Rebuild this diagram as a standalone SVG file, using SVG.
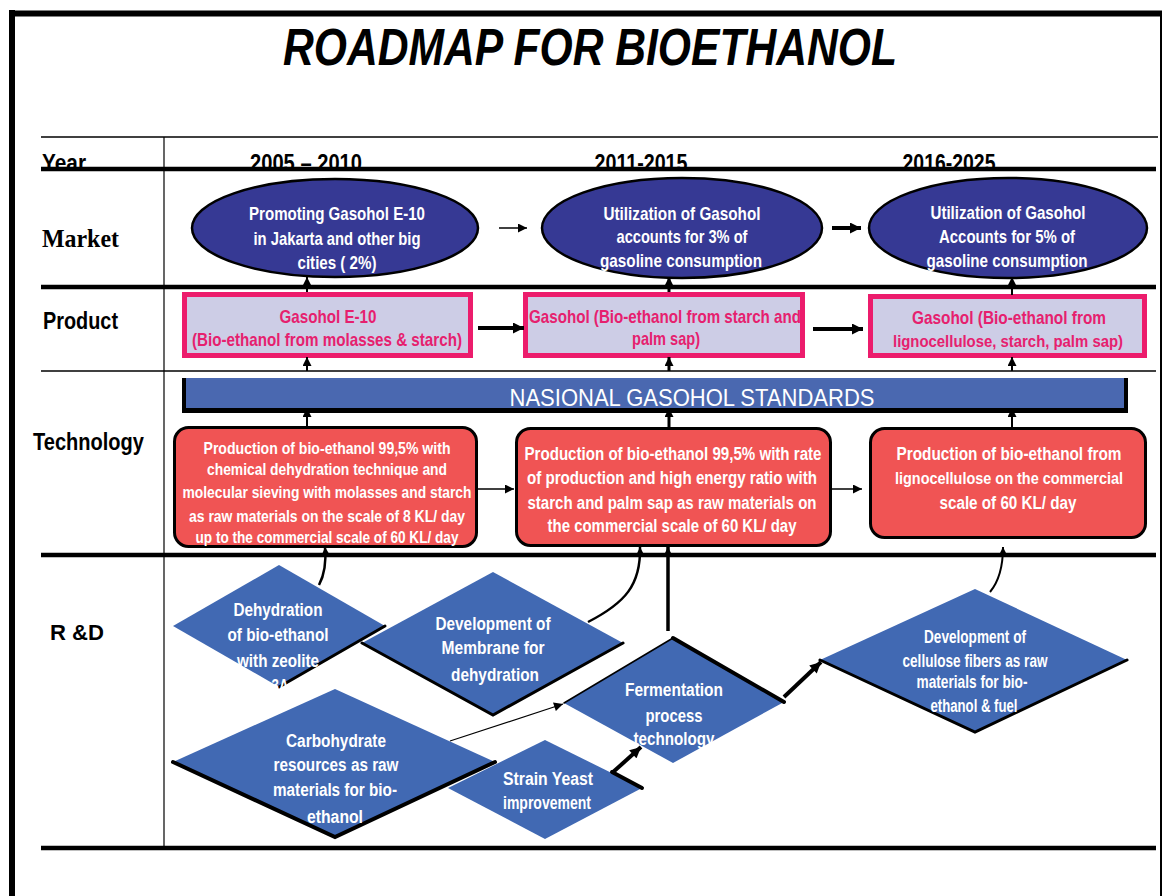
<svg xmlns="http://www.w3.org/2000/svg" width="1163" height="896" viewBox="0 0 1163 896">
<defs>
<style>
text{font-family:"Liberation Sans",Arial,sans-serif;}
.t{font-weight:bold;fill:#fff;text-anchor:middle;}
.m{font-size:19px;}
.p{font-size:19px;font-weight:bold;fill:#E6206E;text-anchor:middle;}
.tc{font-size:17px;}
.d{font-size:18px;}
.lab{font-weight:bold;fill:#000;}
.ell{fill:#363994;stroke:#000;stroke-width:2.5;}
.pbox{fill:#CDCDE6;}
.pbr{fill:none;stroke:#EC1C6C;stroke-width:5;}
.tbox{fill:#F05454;stroke:#000;stroke-width:3;}
.dia{fill:#4169B3;}
.edge{fill:none;stroke:#000;stroke-linecap:round;}
.ln{stroke:#000;fill:none;}
</style>
<marker id="ah" viewBox="0 0 10 10" refX="10" refY="5" markerWidth="10" markerHeight="9" markerUnits="userSpaceOnUse" orient="auto"><path d="M0,0 L10,5 L0,10 z" fill="#000"/></marker>
<marker id="ahb" viewBox="0 0 10 10" refX="10" refY="5" markerWidth="12" markerHeight="11" markerUnits="userSpaceOnUse" orient="auto"><path d="M0,0 L10,5 L0,10 z" fill="#000"/></marker>
</defs>
<rect x="0" y="0" width="1163" height="896" fill="#fff"/>

<g id="frame">
<line x1="9" y1="13.5" x2="1162" y2="13.5" stroke="#000" stroke-width="6"/>
<line x1="12" y1="10" x2="12" y2="896" stroke="#000" stroke-width="6"/>
<line x1="1161" y1="13" x2="1161" y2="896" stroke="#000" stroke-width="2"/>
</g>

<text id="title" x="590" y="65" font-size="51" font-weight="bold" font-style="italic" text-anchor="middle" textLength="614" lengthAdjust="spacingAndGlyphs">ROADMAP FOR BIOETHANOL</text>

<g id="labels">
<text class="lab" x="42" y="171" font-size="23" textLength="44" lengthAdjust="spacingAndGlyphs">Year</text>
<text class="lab" x="306" y="171" font-size="23" text-anchor="middle" textLength="112" lengthAdjust="spacingAndGlyphs">2005 – 2010</text>
<text class="lab" x="641" y="171" font-size="23" text-anchor="middle" textLength="93" lengthAdjust="spacingAndGlyphs">2011-2015</text>
<text class="lab" x="949" y="171" font-size="23" text-anchor="middle" textLength="93" lengthAdjust="spacingAndGlyphs">2016-2025</text>
<text x="42" y="247" font-size="26" font-weight="bold" style="font-family:'Liberation Serif','Times New Roman',serif" textLength="77" lengthAdjust="spacingAndGlyphs">Market</text>
<text class="lab" x="43" y="329" font-size="24" textLength="75" lengthAdjust="spacingAndGlyphs">Product</text>
<text class="lab" x="33" y="450" font-size="24" textLength="111" lengthAdjust="spacingAndGlyphs">Technology</text>
<text class="lab" x="50" y="640" font-size="22" textLength="54" lengthAdjust="spacingAndGlyphs">R &amp;D</text>
</g>

<g id="grid">
<line x1="41" y1="137" x2="1158" y2="137" stroke="#000" stroke-width="1.5"/>
<line x1="164" y1="137" x2="164" y2="848" stroke="#000" stroke-width="1.2"/>
<line x1="41" y1="169" x2="1156" y2="169" stroke="#000" stroke-width="4.5"/>
<line x1="41" y1="287" x2="1156" y2="287" stroke="#000" stroke-width="4.5"/>
<line x1="41" y1="371" x2="1156" y2="371" stroke="#000" stroke-width="1.5"/>
<line x1="41" y1="555" x2="1156" y2="555" stroke="#000" stroke-width="4.5"/>
<line x1="41" y1="848" x2="1156" y2="848" stroke="#000" stroke-width="4.5"/>
</g>

<g id="market1">
<ellipse class="ell" cx="335" cy="228" rx="143" ry="49"/>
<text class="t m" x="337" y="220" textLength="176" lengthAdjust="spacingAndGlyphs">Promoting Gasohol E-10</text>
<text class="t m" x="337" y="245" textLength="167" lengthAdjust="spacingAndGlyphs">in Jakarta and other big</text>
<text class="t m" x="337" y="269" textLength="79" lengthAdjust="spacingAndGlyphs">cities ( 2%)</text>
</g>
<g id="market2">
<ellipse class="ell" cx="682" cy="228" rx="140" ry="50"/>
<text class="t m" x="682" y="220" textLength="157" lengthAdjust="spacingAndGlyphs">Utilization of Gasohol</text>
<text class="t m" x="682" y="243" textLength="131" lengthAdjust="spacingAndGlyphs">accounts for 3% of</text>
<text class="t m" x="681" y="267" textLength="162" lengthAdjust="spacingAndGlyphs">gasoline consumption</text>
</g>
<g id="market3">
<ellipse class="ell" cx="1008" cy="228" rx="139" ry="50"/>
<text class="t m" x="1008" y="219" textLength="155" lengthAdjust="spacingAndGlyphs">Utilization of Gasohol</text>
<text class="t m" x="1007" y="243" textLength="136" lengthAdjust="spacingAndGlyphs">Accounts for 5% of</text>
<text class="t m" x="1007" y="267" textLength="161" lengthAdjust="spacingAndGlyphs">gasoline consumption</text>
</g>

<g id="product1">
<rect class="pbox" x="184.5" y="294.5" width="286" height="61"/>
<text class="p" x="328" y="323" textLength="97" lengthAdjust="spacingAndGlyphs">Gasohol E-10</text>
<text class="p" x="327" y="346" textLength="270" lengthAdjust="spacingAndGlyphs">(Bio-ethanol from molasses &amp; starch)</text>
<rect class="pbr" x="184.5" y="294.5" width="286" height="61"/>
</g>
<g id="product2">
<rect class="pbox" x="525.5" y="294.5" width="277" height="61"/>
<text class="p" x="665" y="323" textLength="272" lengthAdjust="spacingAndGlyphs">Gasohol  (Bio-ethanol from starch and</text>
<text class="p" x="666" y="345" textLength="68" lengthAdjust="spacingAndGlyphs">palm sap)</text>
<rect class="pbr" x="525.5" y="294.5" width="277" height="61"/>
</g>
<g id="product3">
<rect class="pbox" x="870.5" y="296.5" width="274" height="59"/>
<text class="p" x="1009" y="324" textLength="194" lengthAdjust="spacingAndGlyphs">Gasohol (Bio-ethanol from</text>
<text class="p" x="1008" y="347" style="font-size:16px" textLength="230" lengthAdjust="spacingAndGlyphs">lignocellulose, starch, palm sap)</text>
<rect class="pbr" x="870.5" y="296.5" width="274" height="59"/>
</g>

<g id="standards">
<rect x="182" y="378" width="946" height="35" fill="#000"/>
<rect x="186" y="378" width="938" height="30" fill="#4A68B0"/>
<text x="692" y="406" font-size="24" fill="#fff" text-anchor="middle" textLength="365" lengthAdjust="spacingAndGlyphs">NASIONAL  GASOHOL  STANDARDS</text>
</g>

<g id="tech1">
<rect class="tbox" x="174.5" y="427.5" width="302" height="119" rx="14"/>
<text class="t tc" x="327" y="454" textLength="247" lengthAdjust="spacingAndGlyphs">Production of bio-ethanol 99,5% with</text>
<text class="t tc" x="327" y="475" textLength="240" lengthAdjust="spacingAndGlyphs">chemical dehydration technique and</text>
<text class="t tc" x="327" y="498" textLength="289" lengthAdjust="spacingAndGlyphs">molecular sieving  with molasses and starch</text>
<text class="t tc" x="327" y="522" textLength="276" lengthAdjust="spacingAndGlyphs">as raw materials on the scale of 8 KL/  day</text>
<text class="t tc" x="327" y="543" textLength="263" lengthAdjust="spacingAndGlyphs">up to the commercial scale of 60 KL/ day</text>
</g>
<g id="tech2">
<rect class="tbox" x="516.5" y="428.5" width="314" height="117" rx="14"/>
<text class="t" font-size="18" x="673" y="460" textLength="297" lengthAdjust="spacingAndGlyphs">Production of bio-ethanol 99,5% with rate</text>
<text class="t" font-size="18" x="672" y="484" textLength="290" lengthAdjust="spacingAndGlyphs">of production and high energy ratio with</text>
<text class="t" font-size="18" x="672" y="509" textLength="289" lengthAdjust="spacingAndGlyphs">starch and palm sap as raw materials on</text>
<text class="t" font-size="18" x="672" y="532" textLength="249" lengthAdjust="spacingAndGlyphs">the commercial scale of 60 KL/ day</text>
</g>
<g id="tech3">
<rect class="tbox" x="870.5" y="428.5" width="275" height="109" rx="14"/>
<text class="t" font-size="18" x="1009" y="460" textLength="225" lengthAdjust="spacingAndGlyphs">Production of bio-ethanol from</text>
<text class="t" font-size="16" x="1009" y="484" textLength="228" lengthAdjust="spacingAndGlyphs">lignocellulose on the commercial</text>
<text class="t" font-size="18" x="1008" y="509" textLength="137" lengthAdjust="spacingAndGlyphs">scale of 60 KL/ day</text>
</g>

<g id="rd-membrane">
<polygon class="dia" points="362,643 493,572 623,643 493,715"/>
<polyline class="edge" points="362,643 493,715 623,643" stroke-width="3"/>
<text class="t d" x="493" y="630" textLength="115" lengthAdjust="spacingAndGlyphs">Development of</text>
<text class="t d" x="493" y="654" textLength="103" lengthAdjust="spacingAndGlyphs">Membrane for</text>
<text class="t d" x="495" y="681" textLength="88" lengthAdjust="spacingAndGlyphs">dehydration</text>
</g>
<g id="rd-dehydration">
<polygon class="dia" points="173,626 279,565 385,626 279,687"/>
<line class="edge" x1="385" y1="626" x2="279" y2="687" stroke-width="3"/>
<text class="t d" x="278" y="616" textLength="89" lengthAdjust="spacingAndGlyphs">Dehydration</text>
<text class="t d" x="278" y="641" textLength="101" lengthAdjust="spacingAndGlyphs">of bio-ethanol</text>
<text class="t d" x="278" y="667" textLength="82" lengthAdjust="spacingAndGlyphs">with zeolite</text>
<text class="t d" x="280" y="692" textLength="17" lengthAdjust="spacingAndGlyphs">3A</text>
</g>
<g id="rd-carbohydrate">
<polygon class="dia" points="173,762 335,689 495,762 335,837"/>
<polyline class="edge" points="173,762 335,837 495,762" stroke-width="4"/>
<text class="t d" x="336" y="747" textLength="100" lengthAdjust="spacingAndGlyphs">Carbohydrate</text>
<text class="t d" x="336" y="771" textLength="125" lengthAdjust="spacingAndGlyphs">resources as raw</text>
<text class="t d" x="335" y="796" textLength="124" lengthAdjust="spacingAndGlyphs">materials for bio-</text>
<text class="t d" x="335" y="823" textLength="56" lengthAdjust="spacingAndGlyphs">ethanol</text>
</g>
<g id="rd-fermentation">
<polygon class="dia" points="564,703 673,638 784,702 673,763"/>
<line class="edge" x1="564" y1="703" x2="673" y2="638" stroke-width="1.5"/>
<line class="edge" x1="673" y1="638" x2="784" y2="702" stroke-width="4"/>
<text class="t d" x="674" y="696" textLength="98" lengthAdjust="spacingAndGlyphs">Fermentation</text>
<text class="t d" x="674" y="722" textLength="57" lengthAdjust="spacingAndGlyphs">process</text>
<text class="t d" x="674" y="745" textLength="81" lengthAdjust="spacingAndGlyphs">technology</text>
</g>
<g id="rd-yeast">
<polygon class="dia" points="448,788 545,740 642,788 545,839"/>
<line class="edge" x1="612" y1="772" x2="642" y2="788" stroke-width="4"/>
<text class="t d" x="548" y="785" textLength="90" lengthAdjust="spacingAndGlyphs">Strain Yeast</text>
<text class="t d" x="547" y="809" textLength="88" lengthAdjust="spacingAndGlyphs">improvement</text>
</g>
<g id="rd-cellulose">
<polygon class="dia" points="820,660 975,589 1127,660 975,732"/>
<polyline class="edge" points="820,660 975,732 1127,660" stroke-width="3"/>
<text class="t d" x="975" y="643" textLength="102" lengthAdjust="spacingAndGlyphs">Development of</text>
<text class="t d" x="975" y="667" textLength="145" lengthAdjust="spacingAndGlyphs">cellulose fibers as raw</text>
<text class="t d" x="972" y="688" textLength="111" lengthAdjust="spacingAndGlyphs">materials for bio-</text>
<text class="t d" x="974" y="712" textLength="87" lengthAdjust="spacingAndGlyphs">ethanol &amp; fuel</text>
</g>

<g id="connectors">
<line class="ln" x1="499" y1="228" x2="527" y2="228" stroke-width="1.5" marker-end="url(#ah)"/>
<line class="ln" x1="832" y1="228" x2="861" y2="228" stroke-width="4" marker-end="url(#ahb)"/>
<line class="ln" x1="478" y1="328" x2="524" y2="328" stroke-width="4" marker-end="url(#ahb)"/>
<line class="ln" x1="813" y1="329" x2="863" y2="329" stroke-width="4" marker-end="url(#ahb)"/>
<line class="ln" x1="478" y1="489" x2="514" y2="489" stroke-width="1.5" marker-end="url(#ah)"/>
<line class="ln" x1="832" y1="489" x2="862" y2="489" stroke-width="1.5" marker-end="url(#ah)"/>
<line class="ln" x1="307" y1="292" x2="307" y2="277" stroke-width="2" marker-end="url(#ah)"/>
<line class="ln" x1="307" y1="371" x2="307" y2="357" stroke-width="2" marker-end="url(#ah)"/>
<line class="ln" x1="307" y1="427" x2="307" y2="408" stroke-width="2" marker-end="url(#ah)"/>
<line class="ln" x1="669" y1="292" x2="669" y2="277" stroke-width="3" marker-end="url(#ah)"/>
<line class="ln" x1="669" y1="371" x2="669" y2="357" stroke-width="3" marker-end="url(#ah)"/>
<line class="ln" x1="669" y1="428" x2="669" y2="408" stroke-width="3" marker-end="url(#ah)"/>
<line class="ln" x1="1012" y1="295" x2="1012" y2="277" stroke-width="2" marker-end="url(#ah)"/>
<line class="ln" x1="1012" y1="371" x2="1012" y2="357" stroke-width="2" marker-end="url(#ah)"/>
<line class="ln" x1="1012" y1="428" x2="1012" y2="408" stroke-width="2" marker-end="url(#ah)"/>
<path class="ln" d="M319,585 Q327,570 325,547" stroke-width="2.5" marker-end="url(#ah)"/>
<path class="ln" d="M588,622 C625,603 641,585 640,547" stroke-width="2.5" marker-end="url(#ah)"/>
<line class="ln" x1="668" y1="631" x2="668" y2="547" stroke-width="3.5" marker-end="url(#ah)"/>
<path class="ln" d="M990,592 C1000,580 1003,565 1003,547" stroke-width="2" marker-end="url(#ah)"/>
<line class="ln" x1="450" y1="741" x2="563" y2="704" stroke-width="1.2" marker-end="url(#ah)"/>
<line class="ln" x1="612" y1="773" x2="641" y2="747" stroke-width="4" marker-end="url(#ahb)"/>
<line class="ln" x1="784" y1="697" x2="821" y2="662" stroke-width="4" marker-end="url(#ahb)"/>
</g>
</svg>
